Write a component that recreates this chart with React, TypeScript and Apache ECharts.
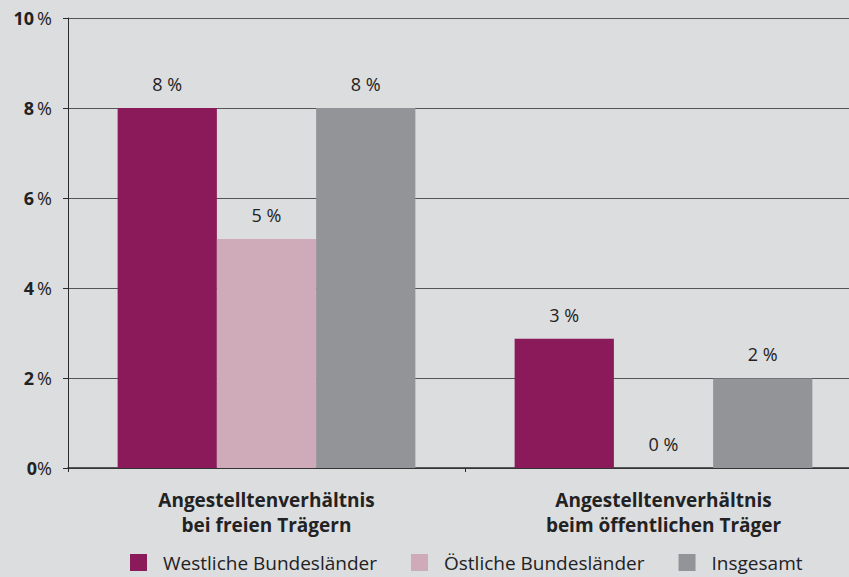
import React, { useEffect, useRef } from "react";
import * as echarts from "echarts";

const categories = [
  "Angestelltenverhältnis\nbei freien Trägern",
  "Angestelltenverhältnis\nbeim öffentlichen Träger",
];
const seriesNames = ["Westliche Bundesländer", "Östliche Bundesländer", "Insgesamt"];
const westValues = [8.0, 2.87];
const eastValues = [5.09, 0];
const totalValues = [8.0, 1.99];
const colors = ["#8a1a5a", "#cfabba", "#939497"];

export default function App() {
  const ref = useRef<HTMLDivElement>(null);
  useEffect(() => {
    document.body.style.margin = "0";
    const chart = echarts.init(ref.current!, null, { renderer: "svg" });
    const font = "'Open Sans', 'Noto Sans', sans-serif";
    const label = {
      show: true,
      position: "top",
      distance: 15,
      fontFamily: font,
      fontSize: 18,
      color: "#222",
      formatter: (p: any) => Math.round(p.value) + " %",
    };
    const mk = (name: string, data: number[], color: string) => ({
      name,
      type: "bar",
      data,
      barGap: "0%",
      barCategoryGap: "25%",
      itemStyle: { color },
      label,
    });
    chart.setOption({
      animation: false,
      backgroundColor: "#dcdddf",
      textStyle: { fontFamily: font },
      grid: { left: 68, right: 0, top: 18, bottom: 109, containLabel: false },
      legend: {
        left: 125,
        bottom: 0,
        itemWidth: 17,
        itemHeight: 17,
        itemGap: 34,
        icon: "rect",
        textStyle: { fontFamily: font, fontSize: 19, color: "#222", padding: [0, 0, 0, 11] },
        data: seriesNames,
      },
      xAxis: {
        type: "category",
        data: categories,
        axisLine: { lineStyle: { color: "#2a2a2a", width: 1.5 } },
        axisTick: { show: true, length: 4, lineStyle: { color: "#2a2a2a" } },
        axisLabel: {
          margin: 19,
          fontFamily: font,
          fontSize: 19,
          fontWeight: "bold",
          color: "#222",
          lineHeight: 25,
        },
      },
      yAxis: {
        type: "value",
        min: 0,
        max: 10,
        interval: 2,
        axisLine: { show: true, lineStyle: { color: "#2a2a2a", width: 1 } },
        axisTick: { show: true, length: 5, lineStyle: { color: "#2a2a2a" } },
        splitLine: { show: true, lineStyle: { color: "#555", width: 1 } },
        axisLabel: {
          margin: 16,
          formatter: (v: number) => (v === 0 ? "{b|0}{p|%}" : "{b|" + v + "} {p|%}"),
          rich: {
            b: { fontFamily: font, fontSize: 18, fontWeight: "bold", color: "#222" },
            p: { fontFamily: font, fontSize: 18, color: "#222" },
          },
        },
      },
      series: [
        mk(seriesNames[0], westValues, colors[0]),
        mk(seriesNames[1], eastValues, colors[1]),
        mk(seriesNames[2], totalValues, colors[2]),
      ],
    });
    return () => chart.dispose();
  }, []);
  return (
    <div
      style={{
        position: "fixed",
        left: 0,
        top: 0,
        width: 849,
        height: 577,
        overflow: "hidden",
        background: "#dcdddf",
      }}
    >
      <div ref={ref} style={{ width: 862, height: 577 }} />
    </div>
  );
}
